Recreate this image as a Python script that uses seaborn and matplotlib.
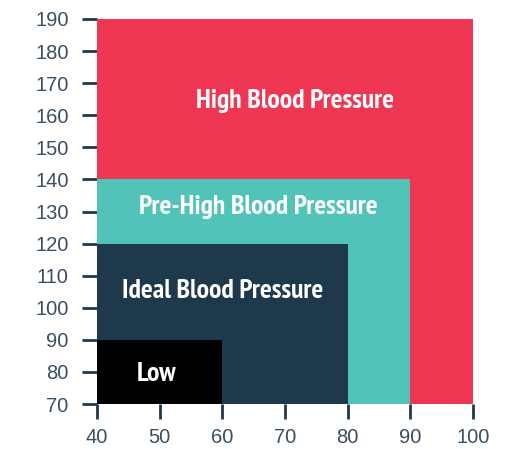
import matplotlib
matplotlib.use("Agg")
import matplotlib.pyplot as plt
import seaborn as sns
from matplotlib import font_manager

# zones, drawn largest first
zones = ["High Blood Pressure", "Pre-High Blood Pressure", "Ideal Blood Pressure", "Low"]
diastolic_max = [100, 90, 80, 60]
systolic_max = [190, 140, 120, 90]
zone_colors = ["#EF3754", "#52C3B8", "#1F394C", "#000000"]
# label anchor (centre x, baseline y)
label_x = [71.6, 65.8, 60.0, 49.5]
label_y = [162.4, 129.2, 103.0, 77.2]

x_min, y_min = 40, 70
x_ticks = [40, 50, 60, 70, 80, 90, 100]
y_ticks = [70, 80, 90, 100, 110, 120, 130, 140, 150, 160, 170, 180, 190]

sns.set_theme(style="white")
plt.rcParams["font.family"] = ["Liberation Sans", "DejaVu Sans"]

# pick a condensed face for the zone labels
fonts = font_manager.fontManager.ttflist
narrow = [f for f in fonts if "Narrow" in f.name and f.weight in ("bold", 700)]
cond = [f for f in fonts if (f.stretch in ("condensed", "semi-condensed") or "Condensed" in f.name)
        and f.weight in ("normal", "regular", 400, "book", "medium", 500) and f.style == "normal"]
if narrow:
    label_font = font_manager.FontProperties(fname=narrow[0].fname, size=19.9)
elif cond:
    label_font = font_manager.FontProperties(fname=cond[0].fname, size=15)
else:
    label_font = font_manager.FontProperties(family="Liberation Sans", weight="bold", size=14.5)

fig = plt.figure(figsize=(5.07, 4.49), dpi=100)
ax = fig.add_axes([97 / 507, 1 - 404 / 449, 376 / 507, 385 / 449])

for i in range(len(zones)):
    ax.bar(x_min, systolic_max[i] - y_min, width=diastolic_max[i] - x_min, bottom=y_min,
           align="edge", color=zone_colors[i], linewidth=0)
    ax.text(label_x[i], label_y[i], zones[i], color="white", fontproperties=label_font,
            ha="center", va="baseline")

ax.set_xlim(x_min, 100)
ax.set_ylim(y_min, 190)
ax.set_xticks(x_ticks)
ax.set_yticks(y_ticks)
sns.despine(ax=ax, left=True, bottom=True)
ax.tick_params(axis="both", direction="out", length=10.5, width=2, color="#1F394C",
               labelcolor="#3A5062", labelsize=14.5)
ax.tick_params(axis="y", pad=10)
ax.tick_params(axis="x", pad=7)
ax.tick_params(left=True, bottom=True)

fig.savefig("out.png", dpi=100)
